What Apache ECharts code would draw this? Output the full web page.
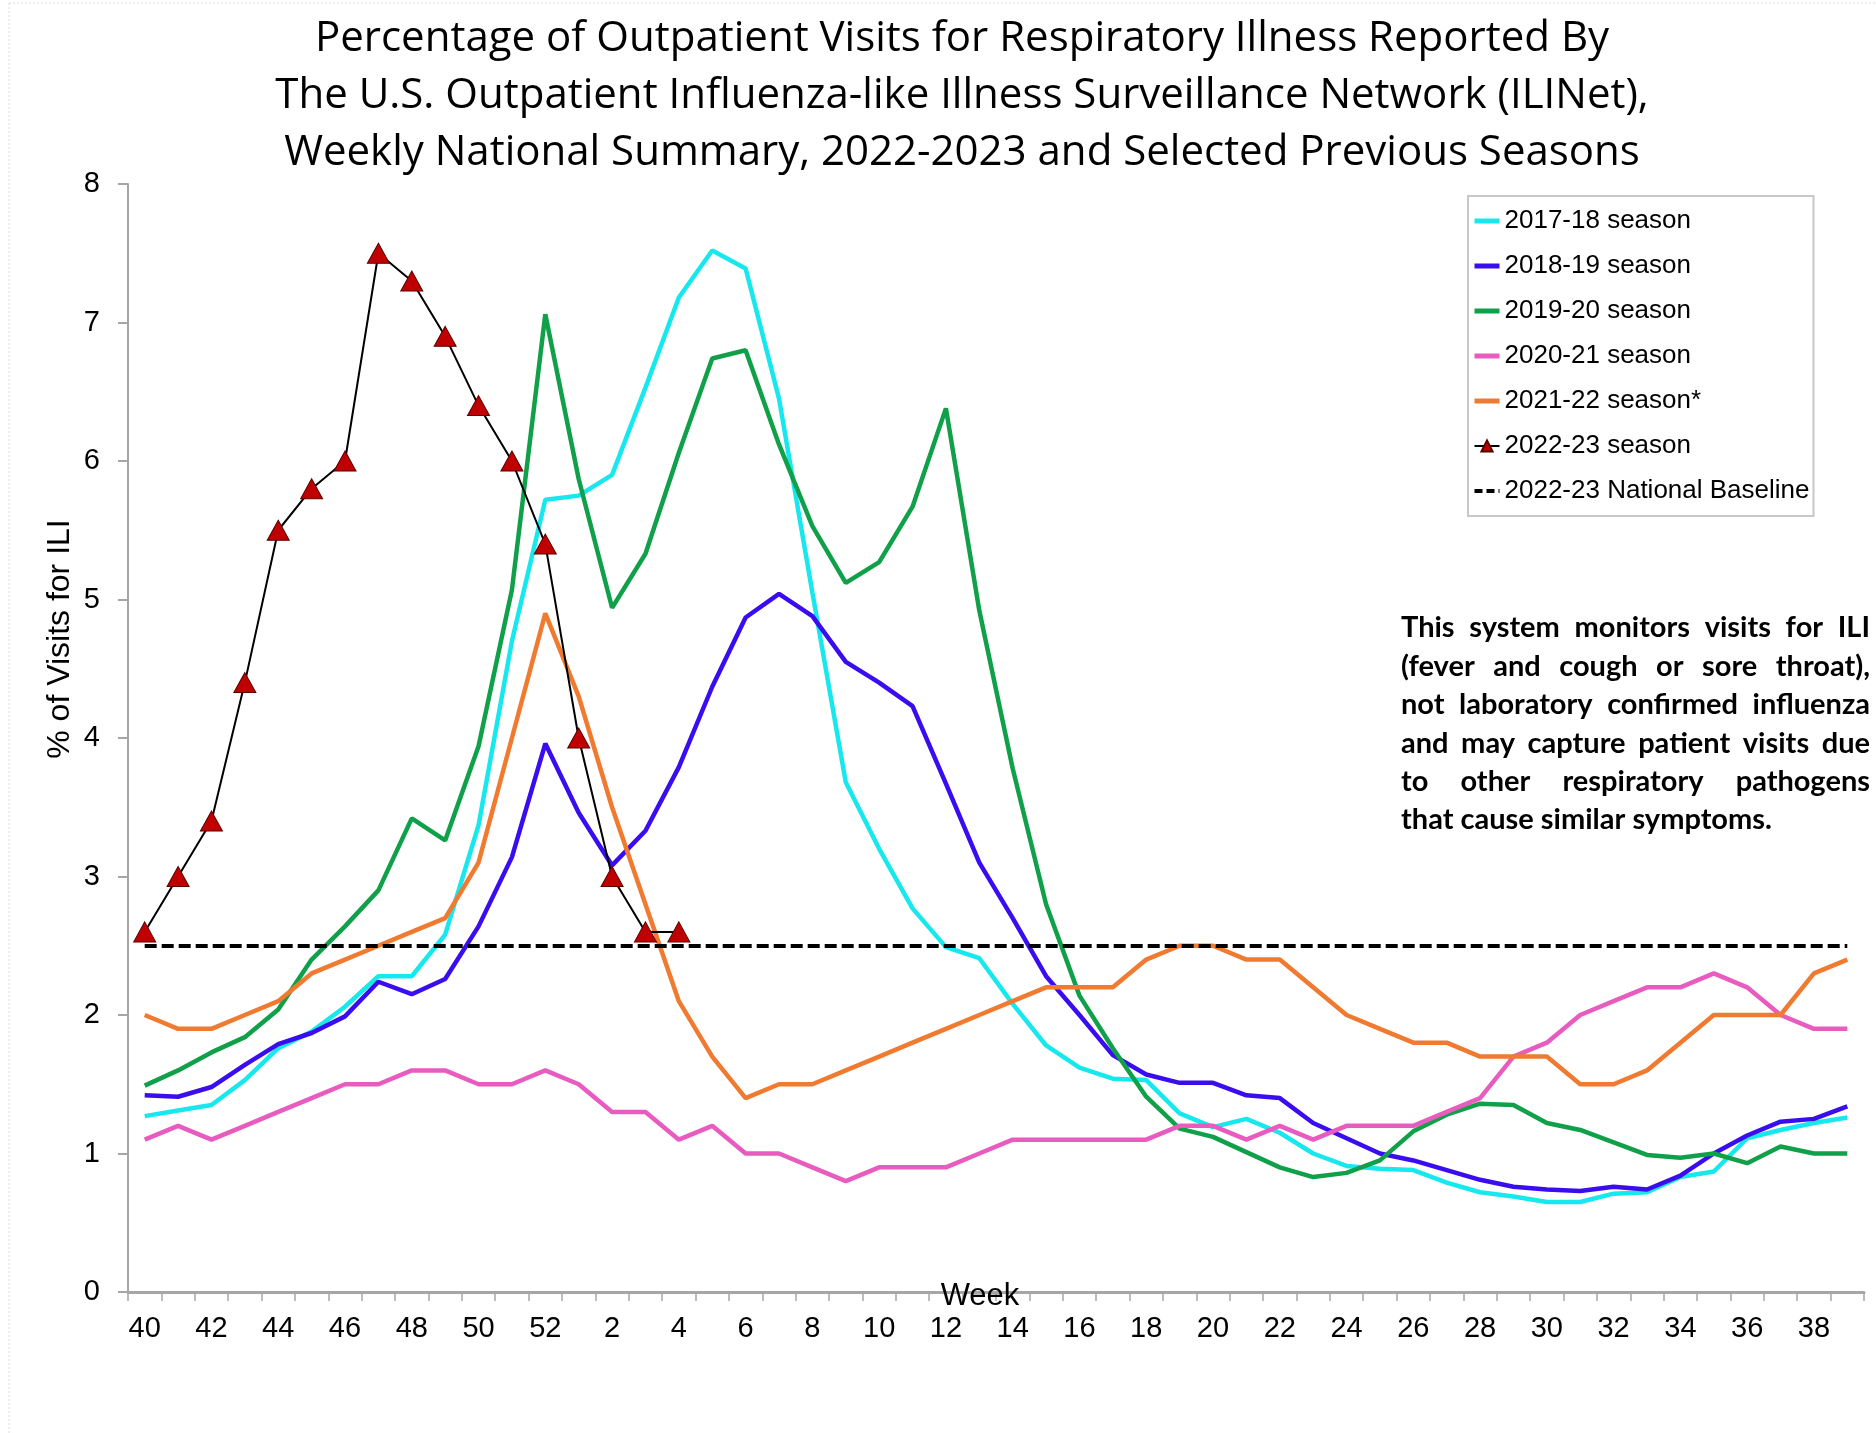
<!DOCTYPE html>
<html>
<head>
<meta charset="utf-8">
<title>ILINet weekly national summary</title>
<script src="https://cdn.jsdelivr.net/npm/echarts@6/dist/echarts.min.js"></script>
<style>
  html, body { margin: 0; padding: 0; background: #fff; }
  #chart { width: 1876px; height: 1433px; }
</style>
</head>
<body>
<div id="chart"></div>
<script>
// Week of season, week 40 through week 39 of the following year
const weeks = ['40', '41', '42', '43', '44', '45', '46', '47', '48', '49', '50', '51', '52',
  '1', '2', '3', '4', '5', '6', '7', '8', '9', '10', '11', '12', '13', '14', '15', '16', '17', '18', '19', '20',
  '21', '22', '23', '24', '25', '26', '27', '28', '29', '30', '31', '32', '33', '34', '35', '36', '37', '38', '39']

// % of visits for ILI, one value per week
const season1718 = [1.27, 1.31, 1.35, 1.53, 1.76, 1.88, 2.06, 2.28, 2.28, 2.58, 3.37, 4.7, 5.72,
  5.75, 5.9, 6.53, 7.18, 7.52, 7.39, 6.45, 5.05, 3.68, 3.2, 2.77, 2.49, 2.41, 2.08, 1.78, 1.62, 1.54, 1.53, 1.29, 1.19,
  1.25, 1.15, 1.0, 0.91, 0.89, 0.88, 0.79, 0.72, 0.69, 0.65, 0.65, 0.71, 0.72, 0.83, 0.87, 1.11, 1.17, 1.22, 1.26]
const season1819 = [1.42, 1.41, 1.48, 1.64, 1.79, 1.87, 1.99, 2.24, 2.15, 2.26, 2.64, 3.14, 3.96,
  3.46, 3.08, 3.33, 3.79, 4.37, 4.87, 5.04, 4.88, 4.55, 4.4, 4.23, 3.67, 3.1, 2.7, 2.28, 2.0, 1.71, 1.57, 1.51, 1.51,
  1.42, 1.4, 1.22, 1.11, 1.0, 0.95, 0.88, 0.81, 0.76, 0.74, 0.73, 0.76, 0.74, 0.84, 1.0, 1.13, 1.23, 1.25, 1.34]
const season1920 = [1.49, 1.6, 1.73, 1.84, 2.04, 2.4, 2.64, 2.9, 3.42, 3.26, 3.94, 5.07, 7.06,
  5.87, 4.94, 5.33, 6.06, 6.74, 6.8, 6.12, 5.53, 5.12, 5.27, 5.67, 6.38, 4.92, 3.78, 2.8, 2.14, 1.76, 1.41, 1.18, 1.12,
  1.01, 0.9, 0.83, 0.86, 0.95, 1.16, 1.28, 1.36, 1.35, 1.22, 1.17, 1.08, 0.99, 0.97, 1.0, 0.93, 1.05, 1.0, 1.0]
const season2021 = [1.1, 1.2, 1.1, 1.2, 1.3, 1.4, 1.5, 1.5, 1.6, 1.6, 1.5, 1.5, 1.6,
  1.5, 1.3, 1.3, 1.1, 1.2, 1.0, 1.0, 0.9, 0.8, 0.9, 0.9, 0.9, 1.0, 1.1, 1.1, 1.1, 1.1, 1.1, 1.2, 1.2,
  1.1, 1.2, 1.1, 1.2, 1.2, 1.2, 1.3, 1.4, 1.7, 1.8, 2.0, 2.1, 2.2, 2.2, 2.3, 2.2, 2.0, 1.9, 1.9]
const season2122 = [2.0, 1.9, 1.9, 2.0, 2.1, 2.3, 2.4, 2.5, 2.6, 2.7, 3.1, 4.0, 4.9,
  4.3, 3.5, 2.8, 2.1, 1.7, 1.4, 1.5, 1.5, 1.6, 1.7, 1.8, 1.9, 2.0, 2.1, 2.2, 2.2, 2.2, 2.4, 2.5, 2.5,
  2.4, 2.4, 2.2, 2.0, 1.9, 1.8, 1.8, 1.7, 1.7, 1.7, 1.5, 1.5, 1.6, 1.8, 2.0, 2.0, 2.0, 2.3, 2.4]
const season2223 = [2.6, 3.0, 3.4, 4.4, 5.5, 5.8, 6.0, 7.5, 7.3, 6.9, 6.4, 6.0, 5.4, 4.0, 3.0, 2.6, 2.6]
const nationalBaseline = 2.5

const titleLines = [
  'Percentage of Outpatient Visits for Respiratory Illness Reported By',
  'The U.S. Outpatient Influenza-like Illness Surveillance Network (ILINet),',
  'Weekly National Summary, 2022-2023 and Selected Previous Seasons'
]

const noteLines = [
  'This system monitors visits for ILI',
  '(fever and cough or sore throat),',
  'not laboratory confirmed influenza',
  'and may capture patient visits due',
  'to other respiratory pathogens',
  'that cause similar symptoms.'
]

const chartDom = document.getElementById('chart')
const chart = echarts.init(chartDom, null, { renderer: 'canvas' })

// Simple season line, no markers
function seasonLine(name, data, color) {
  return {
    name,
    type: 'line',
    data,
    symbol: 'none',
    lineStyle: { color, width: 4.5 },
    itemStyle: { color },
    emphasis: { disabled: true },
    z: 2
  }
}

// Justified paragraph, one text element per word
function justifiedNote(lines, left, top, width, lineGap) {
  const fontSize = 29
  const fontFamily = 'Lato'
  const ctx = document.createElement('canvas').getContext('2d')
  ctx.font = `bold ${fontSize}px ${fontFamily}`
  const space = ctx.measureText(' ').width
  const natural = lines.map(l => {
    const words = l.split(' ')
    return words.reduce((s, w) => s + ctx.measureText(w).width, 0) + space * (words.length - 1)
  })
  const sx = Math.min(1, width / Math.max(...natural))
  const els = []
  lines.forEach((line, i) => {
    const words = line.split(' ')
    const ws = words.map(w => ctx.measureText(w).width * sx)
    const total = ws.reduce((a, b) => a + b, 0)
    const last = i === lines.length - 1
    const gap = last ? space * sx : (width - total) / (words.length - 1)
    let x = left
    words.forEach((w, j) => {
      els.push({
        type: 'text',
        x,
        y: top + i * lineGap,
        scaleX: sx,
        silent: true,
        style: { text: w, fontSize, fontFamily, fontWeight: 'bold', fill: '#000', verticalAlign: 'middle' }
      })
      x += ws[j] + gap
    })
  })
  return els
}

// legend entries: plain thick line icons, no round marker
const hideMarker = { opacity: 0 }
const legendData = [
  { name: '2017-18 season', itemStyle: hideMarker },
  { name: '2018-19 season', itemStyle: hideMarker },
  { name: '2019-20 season', itemStyle: hideMarker },
  { name: '2020-21 season', itemStyle: hideMarker },
  { name: '2021-22 season*', itemStyle: hideMarker },
  { name: '2022-23 season', lineStyle: { width: 2 } },
  { name: '2022-23 National Baseline', itemStyle: hideMarker, lineStyle: { color: '#000', width: 4, type: [8, 4] } }
]

const option = {
  backgroundColor: '#fff',
  animation: false,
  title: {
    text: titleLines.join('\n'),
    left: 957,
    top: 6,
    textAlign: 'center',
    textStyle: { fontFamily: 'Open Sans', fontWeight: 'normal', fontSize: 42, lineHeight: 57, color: '#000' }
  },
  legend: {
    data: legendData,
    orient: 'vertical',
    left: 1468,
    top: 196,
    padding: [11, 4, 11, 4],
    itemGap: 17,
    itemWidth: 25,
    itemHeight: 14,
    borderColor: '#c8c8c8',
    borderWidth: 2,
    backgroundColor: '#fff',
    lineStyle: { width: 5 },
    textStyle: { fontFamily: 'Liberation Sans', fontSize: 26, lineHeight: 28, color: '#000' }
  },
  grid: { left: 128, right: 12, top: 184, bottom: 141, containLabel: false },
  xAxis: {
    type: 'category',
    data: weeks,
    boundaryGap: true,
    axisLine: { lineStyle: { color: '#a6a6a6', width: 3 } },
    axisTick: { show: true, interval: 0, length: 9, lineStyle: { color: '#a6a6a6', width: 1.5 } },
    axisLabel: { interval: 1, fontFamily: 'Liberation Sans', fontSize: 29, color: '#000', margin: 22 },
    splitLine: { show: false }
  },
  yAxis: {
    type: 'value',
    min: 0,
    max: 8,
    interval: 1,
    axisLine: { show: true, lineStyle: { color: '#a6a6a6', width: 2 } },
    axisTick: { show: true, length: 10, lineStyle: { color: '#a6a6a6', width: 2 } },
    axisLabel: { fontFamily: 'Liberation Sans', fontSize: 29, color: '#000', margin: 28 },
    splitLine: { show: false }
  },
  series: [
    seasonLine('2017-18 season', season1718, '#17e8ee'),
    seasonLine('2018-19 season', season1819, '#3a0cf0'),
    seasonLine('2019-20 season', season1920, '#10a04a'),
    seasonLine('2020-21 season', season2021, '#e85cbf'),
    seasonLine('2021-22 season*', season2122, '#f07a30'),
    {
      name: '2022-23 season',
      type: 'line',
      data: season2223,
      symbol: 'triangle',
      symbolSize: [22, 20],
      showAllSymbol: true,
      lineStyle: { color: '#000', width: 2 },
      itemStyle: { color: '#c00000', borderColor: '#5a0000', borderWidth: 1 },
      emphasis: { disabled: true },
      z: 6
    },
    {
      name: '2022-23 National Baseline',
      type: 'line',
      data: [],
      symbol: 'none',
      lineStyle: { color: '#000', width: 4, type: [12, 5] },
      itemStyle: { color: '#000' },
      z: 5,
      markLine: {
        silent: true,
        symbol: 'none',
        label: { show: false },
        lineStyle: { color: '#000', width: 4, type: [12, 5] },
        data: [[
          { coord: [weeks[0], nationalBaseline] },
          { coord: [weeks[weeks.length - 1], nationalBaseline] }
        ]]
      }
    }
  ],
  graphic: [
    { type: 'line', silent: true, shape: { x1: 9, y1: 3, x2: 1876, y2: 3 }, style: { stroke: '#dcdcdc', lineWidth: 1, lineDash: [2, 2] } },
    { type: 'line', silent: true, shape: { x1: 9, y1: 3, x2: 9, y2: 1433 }, style: { stroke: '#dcdcdc', lineWidth: 1, lineDash: [2, 2] } },
    {
      // y axis title sits above the middle of the axis in the original
      type: 'text',
      x: 60,
      y: 639,
      rotation: Math.PI / 2,
      silent: true,
      style: { text: '% of Visits for ILI', fontFamily: 'Liberation Sans', fontSize: 32, fill: '#000', align: 'center', verticalAlign: 'middle' }
    },
    {
      type: 'text',
      x: 980,
      y: 1296,
      z: 10,
      silent: true,
      style: { text: 'Week', fontFamily: 'Liberation Sans', fontSize: 31, fill: '#000', align: 'center', verticalAlign: 'middle' }
    },
    ...justifiedNote(noteLines, 1401, 628, 469, 38.4)
  ]
}

chart.setOption(option)

window.addEventListener('resize', () => chart.resize())
</script>
</body>
</html>
